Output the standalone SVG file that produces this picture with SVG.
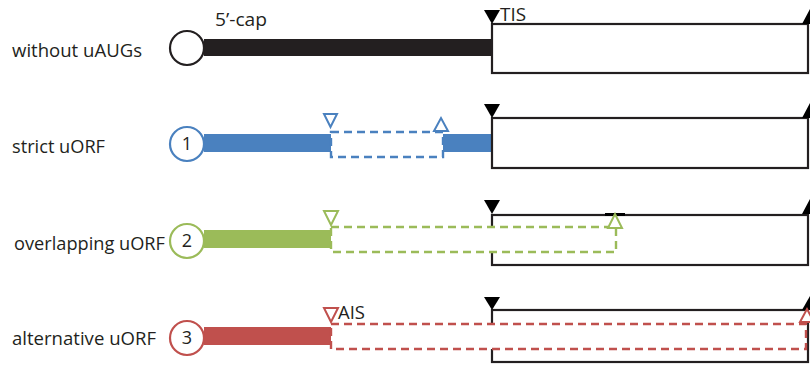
<svg xmlns="http://www.w3.org/2000/svg" width="810" height="365" viewBox="0 0 810 365">
<style>
  text { font-family: "Open Sans", "Liberation Sans", sans-serif; fill: #231f20; }
  .lbl { font-size: 18.5px; }
  .num { font-size: 18px; text-anchor: middle; }
  .small { font-size: 17.5px; }
  .box { fill: #fff; stroke: #231f20; stroke-width: 2.2; }
  .cap { fill: #fff; stroke-width: 2.2; }
  .dash { stroke-width: 2.4; stroke-dasharray: 8 5; }
  .tri { fill: #000; }
  .otri { fill: #fff; stroke-width: 2; }
</style>
<rect width="810" height="365" fill="#fff"/>

<!-- Row 1: without uAUGs -->
<g id="row-without">
  <text class="lbl" x="12" y="57" textLength="130" lengthAdjust="spacingAndGlyphs">without uAUGs</text>
  <rect x="204" y="39" width="289" height="17" fill="#231f20"/>
  <circle class="cap" cx="187" cy="48" r="17" stroke="#231f20"/>
  <text class="small" x="215" y="26" textLength="52" lengthAdjust="spacingAndGlyphs">5’-cap</text>
  <rect class="box" x="492" y="24" width="316" height="49"/>
  <polygon class="tri" points="484,10 500,10 492,24"/>
  <polygon class="tri" points="810,9 802,24 818,24"/>
  <text class="small" x="500" y="21" textLength="26" lengthAdjust="spacingAndGlyphs">TIS</text>
</g>

<!-- Row 2: strict uORF -->
<g id="row-strict">
  <text class="lbl" x="12" y="153" textLength="93" lengthAdjust="spacingAndGlyphs">strict uORF</text>
  <rect x="204" y="134" width="127" height="18" fill="#4a81bf"/>
  <rect x="443" y="134" width="50" height="18" fill="#4a81bf"/>
  <rect class="box" x="492" y="118" width="316" height="50"/>
  <polygon class="tri" points="484,104 500,104 492,118"/>
  <polygon class="tri" points="810,103 802,118 818,118"/>
  <rect class="dash" x="331" y="132" width="112" height="25" fill="#fff" stroke="#4a81bf"/>
  <polygon class="otri" points="324,114 337,114 330.5,127" stroke="#4a81bf"/>
  <polygon class="otri" points="434,131 448,131 441,118" stroke="#4a81bf"/>
  <circle class="cap" cx="187" cy="144" r="17" stroke="#4a81bf"/>
  <text class="num" x="187" y="150">1</text>
</g>

<!-- Row 3: overlapping uORF -->
<g id="row-overlapping">
  <text class="lbl" x="14" y="250" textLength="151" lengthAdjust="spacingAndGlyphs">overlapping uORF</text>
  <rect x="204" y="230" width="127" height="18" fill="#9bbb59"/>
  <rect class="box" x="492" y="215" width="316" height="50"/>
  <polygon class="tri" points="484,200 500,200 492,214"/>
  <polygon class="tri" points="810,199 802,214 818,214"/>
  <rect class="dash" x="331" y="227" width="285" height="25" fill="#fff" stroke="#9bbb59"/>
  <line x1="605" y1="214.5" x2="625" y2="214.5" stroke="#000" stroke-width="3"/>
  <polygon class="otri" points="324,211 338,211 331,225" stroke="#9bbb59"/>
  <polygon class="otri" points="608,228 622,228 615,214" stroke="#9bbb59"/>
  <circle class="cap" cx="187" cy="241" r="17" stroke="#9bbb59"/>
  <text class="num" x="187" y="247">2</text>
</g>

<!-- Row 4: alternative uORF -->
<g id="row-alternative">
  <text class="lbl" x="12" y="345" textLength="144" lengthAdjust="spacingAndGlyphs">alternative uORF</text>
  <rect x="204" y="327" width="127" height="18" fill="#c0504d"/>
  <rect class="box" x="492" y="310" width="316" height="52"/>
  <polygon class="tri" points="484,297 500,297 492,310"/>
  <polygon class="tri" points="810,296 802,310 818,310"/>
  <rect class="dash" x="331" y="324" width="475" height="25" fill="#fff" stroke="#c0504d"/>
  <polygon class="otri" points="324,308 338,308 331,322" stroke="#c0504d"/>
  <polygon class="otri" points="800,322 814,322 807,309" stroke="#c0504d"/>
  <text class="small" x="338" y="319" textLength="27" lengthAdjust="spacingAndGlyphs">AIS</text>
  <circle class="cap" cx="187" cy="338" r="17" stroke="#c0504d"/>
  <text class="num" x="187" y="344">3</text>
</g>
</svg>
